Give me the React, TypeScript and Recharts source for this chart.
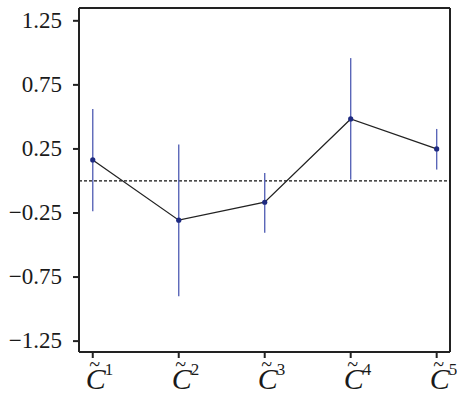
import React from 'react';
import { LineChart, Line, XAxis, YAxis, ErrorBar, ReferenceLine } from 'recharts';

const categories = [1, 2, 3, 4, 5];
const means = [0.164, -0.306, -0.166, 0.484, 0.25];
const lowers = [-0.236, -0.899, -0.405, 0.01, 0.089];
const uppers = [0.562, 0.284, 0.063, 0.959, 0.406];
const yTicks = [-1.25, -0.75, -0.25, 0.25, 0.75, 1.25];

const X_DOMAIN: [number, number] = [0.84, 5.155];
const Y_DOMAIN: [number, number] = [-1.335, 1.35];

const data = categories.map((c, i) => ({
  x: c,
  y: means[i],
  err: [means[i] - lowers[i], uppers[i] - means[i]],
}));

const FONT = 'Liberation Serif, Times New Roman, serif';

const YTick = (props: any) => {
  const { x, y, payload } = props;
  const v = payload.value as number;
  const s = (v < 0 ? '\u2212' : '') + Math.abs(v).toFixed(2);
  return (
    <text x={x} y={y} dy={7} textAnchor="end" fontFamily={FONT} fontSize={23} fill="#1a1a1a">
      {s}
    </text>
  );
};

const XTick = (props: any) => {
  const { x, payload } = props;
  return (
    <g>
      <text x={x - 7} y={389} fontFamily={FONT} fontStyle="italic" fontSize={30} fill="#1a1a1a">
        C
        <tspan fontStyle="normal" fontSize={17} dy={-14} dx={-1}>
          {payload.value}
        </tspan>
      </text>
      <text x={x + 2} y={371} textAnchor="middle" fontFamily={FONT} fontSize={20} fill="#1a1a1a">
        ~
      </text>
    </g>
  );
};

export default function App() {
  return (
    <div style={{ position: 'absolute', left: 0, top: 0, background: '#fff' }}>
      <LineChart width={457} height={394} data={data} margin={{ top: 8, right: 7, bottom: 0, left: 0 }}>
        <XAxis
          dataKey="x"
          type="number"
          domain={X_DOMAIN}
          ticks={categories}
          tick={<XTick />}
          height={42}
          tickSize={6}
          axisLine={{ stroke: '#222', strokeWidth: 2 }}
          tickLine={{ stroke: '#222', strokeWidth: 2 }}
          allowDataOverflow
        />
        <YAxis
          type="number"
          domain={Y_DOMAIN}
          ticks={yTicks}
          tick={<YTick />}
          width={79}
          tickSize={6}
          tickMargin={11}
          axisLine={{ stroke: '#222', strokeWidth: 2 }}
          tickLine={{ stroke: '#222', strokeWidth: 2 }}
          allowDataOverflow
        />
        <ReferenceLine y={Y_DOMAIN[1]} stroke="#222" strokeWidth={2} />
        <ReferenceLine x={X_DOMAIN[1]} stroke="#222" strokeWidth={2} />
        <ReferenceLine y={0} stroke="#111" strokeWidth={1.3} strokeDasharray="3 2" />
        <Line
          dataKey="y"
          stroke="#222"
          strokeWidth={1.3}
          dot={{ r: 2.6, fill: '#1e2a80', stroke: '#1e2a80', strokeWidth: 0 }}
          isAnimationActive={false}
        >
          <ErrorBar dataKey="err" direction="y" width={0} stroke="#5a66b8" strokeWidth={1.4} />
        </Line>
      </LineChart>
    </div>
  );
}
